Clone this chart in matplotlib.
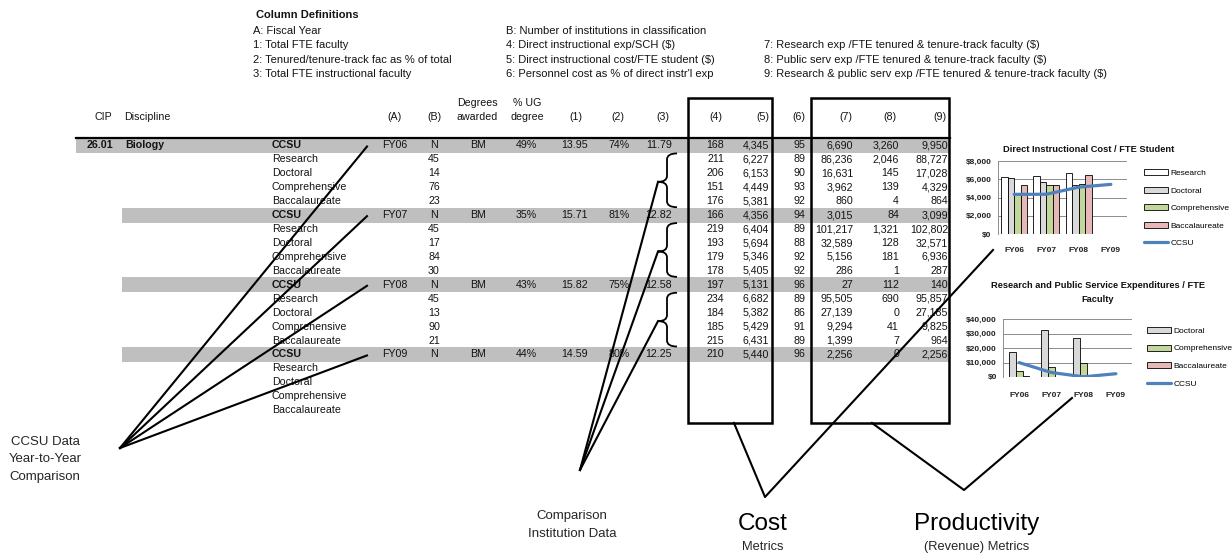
import numpy as np
import matplotlib
matplotlib.use('Agg')
import matplotlib.pyplot as plt
from matplotlib.patches import Rectangle, PathPatch
from matplotlib.path import Path

plt.rcParams['font.family'] = ['Liberation Sans', 'DejaVu Sans']

# ---------------- data ----------------
years = ['FY06', 'FY07', 'FY08', 'FY09']
peers = ['Research', 'Doctoral', 'Comprehensive', 'Baccalaureate']

ccsu_b = ['N', 'N', 'N', 'N']
ccsu_deg = ['BM', 'BM', 'BM', 'BM']
ccsu_ug = ['49%', '35%', '43%', '44%']
ccsu_c1 = ['13.95', '15.71', '15.82', '14.59']
ccsu_c2 = ['74%', '81%', '75%', '80%']
ccsu_c3 = ['11.79', '12.82', '12.58', '12.25']
ccsu_c4 = [168, 166, 197, 210]
ccsu_c5 = [4345, 4356, 5131, 5440]
ccsu_c6 = [95, 94, 96, 96]
ccsu_c7 = [6690, 3015, 27, 2256]
ccsu_c8 = [3260, 84, 112, 0]
ccsu_c9 = [9950, 3099, 140, 2256]

# comparison institutions: one list per year (FY06..FY08), one value per peer group
peer_n = [[45, 14, 76, 23], [45, 17, 84, 30], [45, 13, 90, 21]]
peer_c4 = [[211, 206, 151, 176], [219, 193, 179, 178], [234, 184, 185, 215]]
peer_c5 = [[6227, 6153, 4449, 5381], [6404, 5694, 5346, 5405], [6682, 5382, 5429, 6431]]
peer_c6 = [[89, 90, 93, 92], [89, 88, 92, 92], [89, 86, 91, 89]]
peer_c7 = [[86236, 16631, 3962, 860], [101217, 32589, 5156, 286], [95505, 27139, 9294, 1399]]
peer_c8 = [[2046, 145, 139, 4], [1321, 128, 181, 1], [690, 0, 41, 7]]
peer_c9 = [[88727, 17028, 4329, 864], [102802, 32571, 6936, 287], [95857, 27185, 9825, 964]]

defs_left = ['A: Fiscal Year', '1: Total FTE faculty',
             '2: Tenured/tenure-track fac as % of total', '3: Total FTE instructional faculty']
defs_mid = ['B: Number of institutions in classification', '4: Direct instructional exp/SCH ($)',
            '5: Direct instructional cost/FTE student ($)', "6: Personnel cost as % of direct instr'l exp"]
defs_right = ['7: Research exp /FTE tenured & tenure-track faculty ($)',
              '8: Public serv exp /FTE tenured & tenure-track faculty ($)',
              '9: Research & public serv exp /FTE tenured & tenure-track faculty ($)']

bar_colors = {'Research': '#ffffff', 'Doctoral': '#d9d9d9',
              'Comprehensive': '#c3d69b', 'Baccalaureate': '#e6b9b8'}
ccsu_blue = '#4f81bd'

W, H = 1232, 554
fig = plt.figure(figsize=(W / 100, H / 100), dpi=100)
ax = fig.add_axes([0, 0, 1, 1])
ax.set_xlim(0, W)
ax.set_ylim(H, 0)
ax.axis('off')

TXT = '#141414'
FS = 7.7


def T(x, y, s, **kw):
    kw.setdefault('fontsize', FS)
    kw.setdefault('va', 'center')
    kw.setdefault('color', TXT)
    ax.text(x, y, s, **kw)


# column definitions
DFS = 8.0
T(256, 15, 'Column Definitions', fontweight='bold', fontsize=DFS)
for i, s in enumerate(defs_left):
    T(253, 31 + 14.3 * i, s, fontsize=DFS)
for i, s in enumerate(defs_mid):
    T(506, 31 + 14.3 * i, s, fontsize=DFS)
for i, s in enumerate(defs_right):
    T(764, 31 + 14.3 * (i + 1), s, fontsize=DFS)

# header row
hy = 117
T(103, hy, 'CIP', ha='center')
T(124, hy, 'Discipline')
T(395, hy, '(A)', ha='center')
T(434, hy, '(B)', ha='center')
T(477, hy - 14, 'Degrees', ha='center')
T(477, hy, 'awarded', ha='center')
T(527, hy - 14, '% UG', ha='center')
T(527, hy, 'degree', ha='center')
for lab, xc in zip(['(1)', '(2)', '(3)', '(4)', '(5)', '(6)', '(7)', '(8)', '(9)'],
                   [576, 618, 663, 716, 763, 799, 846, 890, 940]):
    T(xc, hy, lab, ha='center')

ax.plot([76, 950], [138, 138], color='black', lw=1.6, zorder=3)

# table rows
y0, dy = 145.5, 13.93
xr = [588, 630, 672, 724, 769, 805, 853, 899, 948]  # right edges of columns (1)..(9)


def row_y(r):
    return y0 + dy * r


def fmt(v):
    return f'{v:,}'


for i, yr in enumerate(years):
    y = row_y(5 * i)
    x0 = 76 if i == 0 else 122
    ax.add_patch(Rectangle((x0, y - 7.5), 950 - x0, 15, fc='#bfbfbf', ec='none', zorder=1))
    if i == 0:
        T(87, y, '26.01', fontweight='bold')
        T(125, y, 'Biology', fontweight='bold')
    T(272, y, 'CCSU', fontweight='bold')
    T(395, y, yr, ha='center')
    T(434, y, ccsu_b[i], ha='center')
    T(478, y, ccsu_deg[i], ha='center')
    T(526, y, ccsu_ug[i], ha='center')
    vals = [ccsu_c1[i], ccsu_c2[i], ccsu_c3[i], fmt(ccsu_c4[i]), fmt(ccsu_c5[i]),
            fmt(ccsu_c6[i]), fmt(ccsu_c7[i]), fmt(ccsu_c8[i]), fmt(ccsu_c9[i])]
    for v, x in zip(vals, xr):
        T(x, y, v, ha='right')
    for k, name in enumerate(peers):
        yk = row_y(5 * i + 1 + k)
        T(272, yk, name)
        if i < len(peer_n):
            T(434, yk, str(peer_n[i][k]), ha='center')
            pv = [peer_c4[i][k], peer_c5[i][k], peer_c6[i][k],
                  peer_c7[i][k], peer_c8[i][k], peer_c9[i][k]]
            for v, x in zip(pv, xr[3:]):
                T(x, yk, fmt(v), ha='right')

# boxes round cost and productivity columns
ax.add_patch(Rectangle((688, 98), 84, 325, fc='none', ec='black', lw=1.8, zorder=4))
ax.add_patch(Rectangle((811, 98), 138, 325, fc='none', ec='black', lw=1.8, zorder=4))

# braces for comparison groups
brace_tips = []
for i in range(len(peer_n)):
    top = row_y(5 * i + 1) - 6
    bot = row_y(5 * i + 4) + 6
    mid = (top + bot) / 2 + 1.5
    xe, xm, xt = 677, 667, 658
    verts = [(xe, top), (xm, top), (xm, top + 6), (xm, mid - 6), (xm, mid), (xt, mid),
             (xm, mid), (xm, mid + 6), (xm, bot - 6), (xm, bot), (xe, bot)]
    codes = [Path.MOVETO, Path.CURVE3, Path.CURVE3, Path.LINETO, Path.CURVE3, Path.CURVE3,
             Path.CURVE3, Path.CURVE3, Path.LINETO, Path.CURVE3, Path.CURVE3]
    ax.add_patch(PathPatch(Path(verts, codes), fc='none', ec='black', lw=1.3, zorder=5))
    brace_tips.append((xt, mid))

# pointer lines
LW = 1.5
for i in range(len(years)):
    ax.plot([367, 120], [row_y(5 * i) + 1, 448], color='black', lw=LW, zorder=6)
for xt, yt in brace_tips:
    ax.plot([xt, 580], [yt, 470], color='black', lw=LW, zorder=6)
ax.plot([734, 765, 993], [423, 497, 250], color='black', lw=LW, zorder=6)
ax.plot([872, 964, 1072], [423, 490, 398], color='black', lw=LW, zorder=6)

# captions
for j, s in enumerate(['CCSU Data', 'Year-to-Year', 'Comparison']):
    T(45, 442 + 17.5 * j, s, ha='center', fontsize=9.5, color='#262626')
T(572, 516, 'Comparison', ha='center', fontsize=9.5, color='#262626')
T(572, 534, 'Institution Data', ha='center', fontsize=9.5, color='#262626')
T(763, 524, 'Cost', ha='center', fontsize=17.5, color='black')
T(763, 547, 'Metrics', ha='center', fontsize=9.3, color='#262626')
T(977, 524, 'Productivity', ha='center', fontsize=17.5, color='black')
T(977, 547, '(Revenue) Metrics', ha='center', fontsize=9.3, color='#262626')


# ---------------- small charts ----------------
CFS = 6.0


def style_chart(a, top, step, ypad, xpad):
    a.set_xlim(-0.5, 3.5)
    a.set_ylim(0, top)
    ticks = np.arange(0, top + 1, step)
    a.set_yticks(ticks)
    a.set_yticklabels([f'${t:,}' for t in ticks])
    a.set_xticks(np.arange(len(years)))
    a.set_xticklabels(years)
    a.tick_params(length=0, labelsize=CFS, labelcolor='#222222')
    a.tick_params(axis='y', pad=ypad)
    a.tick_params(axis='x', pad=xpad)
    for lab in a.get_xticklabels() + a.get_yticklabels():
        lab.set_fontweight('bold')
    a.yaxis.grid(True, color='#8c8c8c', lw=0.7)
    a.set_axisbelow(True)
    for sp in ['top', 'right', 'bottom']:
        a.spines[sp].set_visible(False)
    a.spines['left'].set_color('#8c8c8c')
    a.spines['left'].set_linewidth(0.7)
    a.patch.set_alpha(0)


xcat = np.arange(len(years))
leg_kw = dict(loc='upper left', bbox_transform=fig.transFigure, frameon=False,
              prop={'size': CFS}, handlelength=2.9, handleheight=0.75, labelspacing=1.15,
              handletextpad=0.3, borderpad=0, borderaxespad=0)

# chart 1: direct instructional cost / FTE student
ax1 = fig.add_axes([998 / W, 1 - 234 / H, 129 / W, 73 / H])
style_chart(ax1, 8000, 2000, 4.5, 9.5)
handles1 = []
for k, name in enumerate(peers):
    vals = [peer_c5[i][k] for i in range(len(peer_c5))]
    b = ax1.bar(xcat[:len(vals)] + (k - 1.5) * 0.2, vals, width=0.2,
                color=bar_colors[name], edgecolor='black', lw=0.6, zorder=2)
    handles1.append(b)
ln1, = ax1.plot(xcat, ccsu_c5, color=ccsu_blue, lw=2.3, solid_capstyle='round', zorder=3)
handles1.append(ln1)
T(1089, 149, 'Direct Instructional Cost / FTE Student', ha='center', fontsize=6.7,
  fontweight='bold', color='#111111')
ax1.legend(handles1, peers + ['CCSU'], bbox_to_anchor=(1144 / W, 1 - 169 / H), **leg_kw)

# chart 2: research and public service expenditures / FTE faculty
ax2 = fig.add_axes([1003 / W, 1 - 377 / H, 129 / W, 58 / H])
style_chart(ax2, 40000, 10000, 4.5, 10.5)
handles2 = []
for k, name in enumerate(peers[1:]):
    idx = k + 1
    vals = [peer_c9[i][idx] for i in range(len(peer_c9))]
    b = ax2.bar(xcat[:len(vals)] + (k - 1) * 0.21, vals, width=0.21,
                color=bar_colors[name], edgecolor='black', lw=0.6, zorder=2)
    handles2.append(b)
ln2, = ax2.plot(xcat, ccsu_c9, color=ccsu_blue, lw=2.3, solid_capstyle='round', zorder=3)
handles2.append(ln2)
T(1098, 285, 'Research and Public Service Expenditures / FTE', ha='center', fontsize=6.7,
  fontweight='bold', color='#111111')
T(1098, 299, 'Faculty', ha='center', fontsize=6.7, fontweight='bold', color='#111111')
ax2.legend(handles2, peers[1:] + ['CCSU'], bbox_to_anchor=(1147 / W, 1 - 327 / H), **leg_kw)

fig.savefig('out.png', dpi=100)
